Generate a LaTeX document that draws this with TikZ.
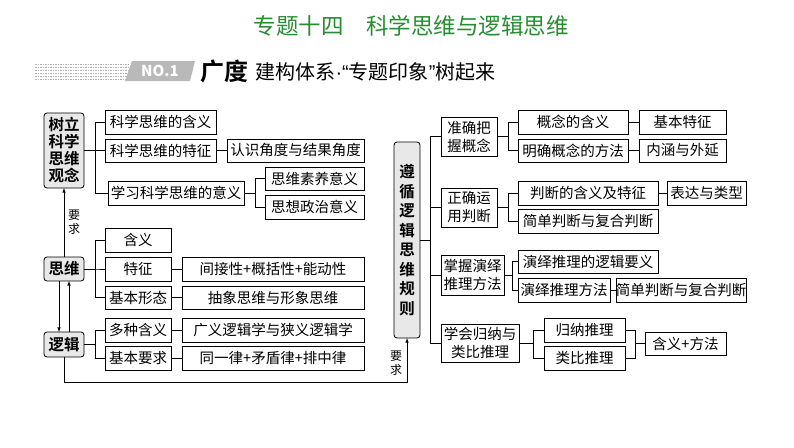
\documentclass[tikz,border=0pt]{standalone}
\usepackage{fontspec}
\setmainfont{Noto Sans CJK SC}
\newfontfamily\cjkb{Noto Sans CJK SC Bold}
\newfontfamily\lat{Liberation Sans}
\usetikzlibrary{calc}
\definecolor{tgreen}{RGB}{40,140,50}
\newcommand\bx[6][]{\node[bx,#1,minimum width={#4-#2},minimum height={#5-#3}] (#6) at ({(#2+#4)/2},{(#3+#5)/2}) {};}
\newcommand\lbl[2]{\node[font=\fontsize{14.5}{15}\selectfont] at (#1) {#2};}
\begin{document}
\begin{tikzpicture}[x=1pt,y=-1pt,
  bx/.style={draw,line width=0.7pt,inner sep=0pt,outer sep=0pt},
  mainb/.style={draw,line width=0.8pt,fill=gray!18,rounded corners=3pt,inner sep=0pt,outer sep=0pt},
  ln/.style={line width=0.6pt},
  ar/.style={line width=0.6pt,-latex}]
\useasboundingbox (0,0) rectangle (794,447);
\fill[white] (0,0) rectangle (794,447);
% title
\node[text=tgreen,font=\fontsize{22.5}{24}\selectfont] (title) at (411,26) {专题十四\hspace{1em}科学思维与逻辑思维};
% banner
\foreach \yy in {64,67,70,73,76,79}{\draw[gray!60,dash pattern=on 1.5pt off 1pt,line width=0.8pt] (35,\yy) -- (128,\yy);}
\fill[gray!55] (132,61) -- (195,61) -- (190,81) -- (125,81) -- cycle;
\node[text=white,font=\bfseries\itshape\fontsize{15}{15}\selectfont] (no) at (160,71) {NO.1};
\node[anchor=west,font=\cjkb\fontsize{24}{24}\selectfont] (gd) at (197,71) {广度};
\node[anchor=west,font=\fontsize{20}{22}\selectfont] (gj) at (252,72) {建构体系{\lat ·“}专题印象{\lat ”}树起来};
% left main
\node[mainb,minimum width=40,minimum height=75,align=center,font=\cjkb\fontsize{15.5}{17}\selectfont] (sl) at (64,150.5) {树立\\科学\\思维\\观念};
\node[mainb,minimum width=40,minimum height=24,font=\cjkb\fontsize{15.5}{17}\selectfont] (sw) at (64,269) {思维};
\node[mainb,minimum width=40,minimum height=25,font=\cjkb\fontsize{15.5}{17}\selectfont] (lj) at (64,344.5) {逻辑};
\node[mainb,minimum width=26,minimum height=196,align=center,font=\cjkb\fontsize{15.5}{19.5}\selectfont] (zx) at (407,240) {遵\\循\\逻\\辑\\思\\维\\规\\则};
% boxes
\bx{105}{110}{216}{134}{a1}\lbl{a1}{科学思维的含义}
\bx{105}{139}{216}{162}{a2}\lbl{a2}{科学思维的特征}
\bx{227}{139}{364}{162}{a3}\lbl{a3}{认识角度与结果角度}
\bx{108}{181}{244}{205}{a4}\lbl{a4}{学习科学思维的意义}
\bx{265}{167}{364}{190}{a5}\lbl{a5}{思维素养意义}
\bx{265}{195}{364}{219}{a6}\lbl{a6}{思想政治意义}
\bx{105}{228}{171}{252}{b1}\lbl{b1}{含义}
\bx{105}{257}{171}{281}{b2}\lbl{b2}{特征}
\bx{182}{257}{364}{281}{b3}\lbl{b3}{间接性+概括性+能动性}
\bx{105}{286}{171}{309}{b4}\lbl{b4}{基本形态}
\bx{182}{286}{364}{309}{b5}\lbl{b5}{抽象思维与形象思维}
\bx{105}{318}{171}{342}{c1}\lbl{c1}{多种含义}
\bx{182}{318}{364}{342}{c2}\lbl{c2}{广义逻辑学与狭义逻辑学}
\bx{105}{346}{171}{370}{c3}\lbl{c3}{基本要求}
\bx{182}{346}{364}{370}{c4}\lbl{c4}{同一律+矛盾律+排中律}
% right
\bx{441}{117}{497}{156}{r1}\node[align=center,font=\fontsize{14.5}{18}\selectfont] at (r1) {准确把\\握概念};
\bx{518}{110}{628}{134}{r11}\lbl{r11}{概念的含义}
\bx{639}{110}{726}{134}{r12}\lbl{r12}{基本特征}
\bx{518}{139}{628}{162}{r13}\lbl{r13}{明确概念的方法}
\bx{639}{139}{726}{162}{r14}\lbl{r14}{内涵与外延}
\bx{441}{188}{497}{227}{r2}\node[align=center,font=\fontsize{14.5}{18}\selectfont] at (r2) {正确运\\用判断};
\bx{518}{181}{658}{205}{r21}\lbl{r21}{判断的含义及特征}
\bx{667}{181}{746}{205}{r22}\lbl{r22}{表达与类型}
\bx{518}{209}{658}{233}{r23}\lbl{r23}{简单判断与复合判断}
\bx{441}{255}{504}{295}{r3}\node[align=center,font=\fontsize{14.5}{18}\selectfont] at (r3) {掌握演绎\\推理方法};
\bx{518}{250}{658}{273}{r31}\lbl{r31}{演绎推理的逻辑要义}
\bx{518}{278}{610}{302}{r32}\lbl{r32}{演绎推理方法}
\bx{616}{278}{746}{302}{r33}\lbl{r33}{简单判断与复合判断}
\bx{441}{324}{519}{362}{r4}\node[align=center,font=\fontsize{14.5}{18}\selectfont] at (r4) {学会归纳与\\类比推理};
\bx{544}{318}{625}{342}{r41}\lbl{r41}{归纳推理}
\bx{544}{346}{625}{370}{r42}\lbl{r42}{类比推理}
\bx{645}{332}{726}{355}{r43}\lbl{r43}{含义+方法}
% branch coords
\coordinate (k1) at (95,0);
\coordinate (k2) at (255,0);
\coordinate (k3) at (430,0);
\coordinate (k4) at (508,0);
\coordinate (k5) at (512,0);
\coordinate (k6) at (533,0);
\coordinate (k7) at (635,0);
\foreach \c in {a1,a2,a4}{\draw[ln] (sl.east) -| (\c.west -| k1) -- (\c.west);}
\draw[ln] (a2) -- (a3);
\foreach \c in {a5,a6}{\draw[ln] (a4.east) -| (\c.west -| k2) -- (\c.west);}
\foreach \c in {b1,b2,b4}{\draw[ln] (sw.east) -| (\c.west -| k1) -- (\c.west);}
\draw[ln] (b2) -- (b3); \draw[ln] (b4) -- (b5);
\foreach \c in {c1,c3}{\draw[ln] (lj.east) -| (\c.west -| k1) -- (\c.west);}
\draw[ln] (c1) -- (c2); \draw[ln] (c3) -- (c4);
\foreach \c in {r1,r2,r3,r4}{\draw[ln] (zx.east) -| (\c.west -| k3) -- (\c.west);}
\foreach \c in {r11,r13}{\draw[ln] (r1.east) -| (\c.west -| k4) -- (\c.west);}
\draw[ln] (r11) -- (r12); \draw[ln] (r13) -- (r14);
\foreach \c in {r21,r23}{\draw[ln] (r2.east) -| (\c.west -| k4) -- (\c.west);}
\draw[ln] (r21) -- (r22);
\foreach \c in {r31,r32}{\draw[ln] (r3.east) -| (\c.west -| k5) -- (\c.west);}
\draw[ln] (r32) -- (r33);
\foreach \c in {r41,r42}{\draw[ln] (r4.east) -| (\c.west -| k6) -- (\c.west);}
\foreach \c in {r41,r42}{\draw[ln] (\c.east) -| (r43.west -| k7) -- (r43.west);}
% arrows
\draw[ar] (sw.north) -- (sl.south);
\node[align=center,font=\fontsize{12}{14}\selectfont] (yq1) at (74,222) {要\\求};
\draw[ar] ([xshift=-5pt]sw.south) -- ([xshift=-5pt]lj.north);
\draw[ar] ([xshift=5pt]lj.north) -- ([xshift=5pt]sw.south);
\coordinate (cb) at (64,382);
\draw[ar] (lj.south) -- (cb) -| (zx.south);
\node[align=center,font=\fontsize{12}{14}\selectfont] (yq2) at (396,363) {要\\求};
\end{tikzpicture}
\end{document}
